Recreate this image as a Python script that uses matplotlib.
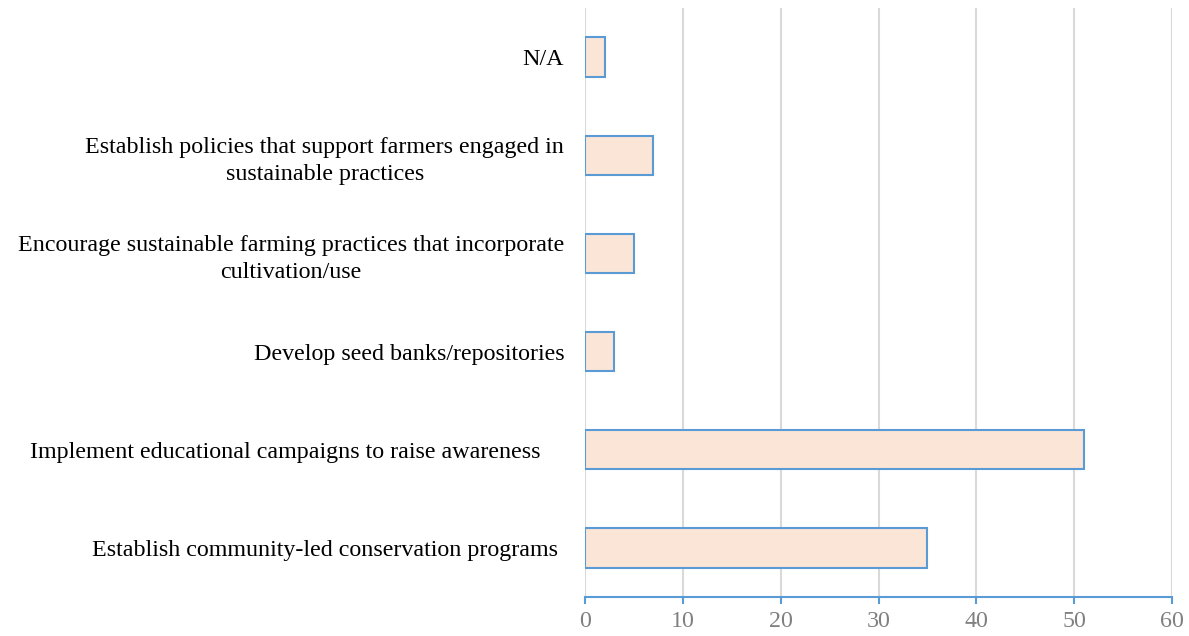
import matplotlib.pyplot as plt
import numpy as np

# survey responses, bottom to top
categories = [
    "Establish community-led conservation programs ",
    "Implement educational campaigns to raise awareness    ",
    "Develop seed banks/repositories",
    "Encourage sustainable farming practices that incorporate\ncultivation/use",
    "Establish policies that support farmers engaged in\nsustainable practices",
    "N/A",
]
counts = [35, 51, 3, 5, 7, 2]
x_ticks = [0, 10, 20, 30, 40, 50, 60]

plt.rcParams['font.family'] = ['Liberation Serif', 'DejaVu Serif']

fig = plt.figure(figsize=(11.89, 6.36), dpi=100)
ax = fig.add_axes([585 / 1189, 39 / 636, 587 / 1189, 589 / 636])

y = np.arange(len(categories))
ax.barh(y, counts, height=0.4, color='#FBE5D6', edgecolor='#5B9BD5',
        linewidth=1.5, zorder=3)

ax.set_xlim(0, 60)
ax.set_ylim(-0.5, len(categories) - 0.5)
ax.set_xticks(x_ticks)
ax.set_yticks(y)
ax.set_yticklabels(categories, fontsize=17.3)
for lbl in ax.get_yticklabels():
    lbl.set_multialignment('center')
    lbl.set_linespacing(1.4)

ax.grid(axis='x', color='#D9D9D9', linewidth=1.5, zorder=0)
ax.tick_params(axis='y', length=0, pad=15)
ax.tick_params(axis='x', colors='#5B9BD5', length=5, width=1.5, direction='out',
               labelcolor='#808080', labelsize=17.3, pad=5)

for side in ['top', 'right', 'left']:
    ax.spines[side].set_visible(False)
ax.spines['bottom'].set_color('#5B9BD5')
ax.spines['bottom'].set_linewidth(1.5)

fig.savefig('out.png', dpi=100)
